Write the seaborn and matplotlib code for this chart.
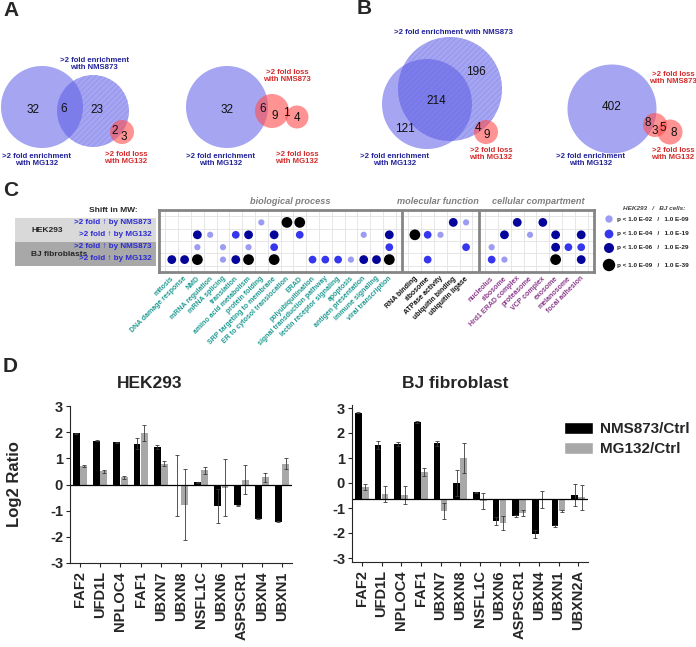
import numpy as np
import pandas as pd
import matplotlib
matplotlib.use('Agg')
import matplotlib.pyplot as plt
import seaborn as sns
from matplotlib.patches import Circle, Rectangle, Patch

W, H = 696, 647

# ---------------- data ----------------
# A / B : venn counts
a_left_counts = [32, 6, 23, 2, 3]
a_right_counts = [32, 6, 9, 1, 4]
b_left_counts = [196, 214, 121, 4, 9]
b_right_counts = [402, 8, 3, 5, 8]

# C : GO terms and p-value class (0 = none, 1..4 = legend classes)
bio_terms = ['mitosis', 'DNA damage response', 'NMD', 'mRNA regulation', 'mRNA splicing',
             'translation', 'amino acid metabolism', 'protein folding',
             'SRP targeting to membrane', 'ER to cytosol translocation', 'ERAD',
             'polyubiquitination', 'signal transduction pathway', 'lectin receptor signaling',
             'apoptosis', 'antigen presentation', 'immune signaling', 'viral transcription']
mf_terms = ['RNA binding', 'ribosome', 'ATPase activity', 'ubiquitin binding', 'ubiquitin ligase']
cc_terms = ['nucleolus', 'ribosome', 'Hrd1 ERAD complex', 'proteasome', 'VCP complex',
            'exosome', 'melanosome', 'focal adhesion']
row_labels = ['>2 fold \u2191 by NMS873', '>2 fold \u2191 by MG132',
              '>2 fold \u2191 by NMS873', '>2 fold \u2191 by MG132']
hek_nms_go = [0, 0, 0, 0, 0, 0, 0, 1, 0, 4, 4, 0, 0, 0, 0, 0, 0, 0] + [0, 0, 0, 3, 1] + [0, 0, 3, 0, 3, 0, 0, 0]
hek_mg_go = [0, 0, 3, 1, 0, 2, 3, 0, 3, 0, 2, 0, 0, 0, 0, 1, 0, 3] + [4, 2, 1, 0, 0] + [0, 3, 0, 1, 0, 3, 0, 3]
bj_nms_go = [0, 0, 1, 0, 1, 0, 1, 0, 2, 0, 0, 0, 0, 0, 0, 0, 0, 2] + [0, 0, 0, 0, 2] + [1, 0, 0, 0, 0, 3, 2, 2]
bj_mg_go = [3, 3, 4, 0, 1, 3, 4, 0, 4, 0, 0, 2, 2, 2, 1, 3, 3, 4] + [0, 2, 0, 0, 0] + [2, 1, 0, 0, 0, 4, 0, 3]
p_classes = ['p < 1.0 E-02   /   1.0 E-09', 'p < 1.0 E-04   /   1.0 E-19',
             'p < 1.0 E-06   /   1.0 E-29', 'p < 1.0 E-09   /   1.0 E-39']

# D : log2 ratios
hek_genes = ['FAF2', 'UFD1L', 'NPLOC4', 'FAF1', 'UBXN7', 'UBXN8', 'NSFL1C', 'UBXN6',
             'ASPSCR1', 'UBXN4', 'UBXN1']
hek_nms = [1.95, 1.68, 1.62, 1.56, 1.43, -0.05, 0.09, -0.82, -0.80, -1.30, -1.42]
hek_nms_err = [0.02, 0.02, 0.02, 0.22, 0.08, 1.17, 0.02, 0.66, 0.02, 0.03, 0.02]
hek_mg = [0.69, 0.50, 0.27, 1.97, 0.80, -0.78, 0.54, -0.12, 0.18, 0.27, 0.80]
hek_mg_err = [0.04, 0.05, 0.06, 0.29, 0.08, 1.36, 0.13, 1.10, 0.55, 0.18, 0.20]

bj_genes = ['FAF2', 'UFD1L', 'NPLOC4', 'FAF1', 'UBXN7', 'UBXN8', 'NSFL1C', 'UBXN6',
            'ASPSCR1', 'UBXN4', 'UBXN1', 'UBXN2A']
bj_nms = [3.45, 2.16, 2.20, 3.08, 2.23, 0.65, 0.27, -0.87, -0.67, -1.40, -1.08, 0.17]
bj_nms_err = [0.02, 0.17, 0.09, 0.03, 0.11, 0.51, 0.03, 0.15, 0.03, 0.16, 0.03, 0.44]
bj_mg = [0.49, 0.20, 0.16, 1.09, -0.47, 1.65, -0.07, -0.95, -0.55, -0.01, -0.47, 0.07]
bj_mg_err = [0.11, 0.33, 0.37, 0.17, 0.31, 0.61, 0.33, 0.27, 0.13, 0.33, 0.04, 0.51]

# ---------------- style ----------------
sns.set_style('ticks')
plt.rcParams['font.family'] = ['Liberation Sans', 'DejaVu Sans']
plt.rcParams['font.weight'] = 'bold'
plt.rcParams['axes.unicode_minus'] = False
plt.rcParams['hatch.linewidth'] = 0.6

navy = '#22229a'
red = '#d42a2a'
blue_fill = '#5c5ce6'
red_fill = '#ff5050'
dot_colors = {'p1': '#9c9cf2', 'p2': '#3636ec', 'p3': '#04049a', 'p4': '#000000'}
dot_sizes = {'p1': 20, 'p2': 31, 'p3': 40, 'p4': 60}

fig = plt.figure(figsize=(W / 100, H / 100), dpi=100)


def px_axes(x0, y0, x1, y1):
    return fig.add_axes([x0 / W, 1 - y1 / H, (x1 - x0) / W, (y1 - y0) / H])


# overlay in pixel coordinates for venns and free text
ov = fig.add_axes([0, 0, 1, 1])
ov.set_xlim(0, W)
ov.set_ylim(H, 0)
ov.axis('off')
ov.set_zorder(10)

for lab, x, y in [('A', 3, 10), ('B', 357, 9), ('C', 3, 190), ('D', 3, 366)]:
    ov.text(x, y, lab, fontsize=15, fontweight='bold', ha='left', va='center')


# ---------------- A / B venns ----------------
def draw_venn(circles, counts, numpos):
    for cx, cy, r, kind in circles:
        if kind == 'red':
            ov.add_patch(Circle((cx, cy), r, facecolor=red_fill, alpha=0.62, lw=0))
        elif kind == 'hatch':
            ov.add_patch(Circle((cx, cy), r, facecolor=blue_fill, alpha=0.55, lw=0))
            ov.add_patch(Circle((cx, cy), r, facecolor='none', edgecolor='#7c7cec',
                                hatch='//////', lw=0, alpha=0.45))
        else:
            ov.add_patch(Circle((cx, cy), r, facecolor=blue_fill, alpha=0.55, lw=0))
    for n, (x, y) in zip(counts, numpos):
        ov.text(x, y, str(n), ha='center', va='center', fontsize=8.5, fontweight='normal',
                color='#111111')


draw_venn([(42, 107, 41, 'plain'), (93, 111, 36, 'hatch'), (122, 132, 12, 'red')],
          a_left_counts, [(33, 110), (64, 109), (97, 110), (115, 131), (124, 137)])
draw_venn([(227, 107, 41, 'plain'), (272, 111, 17, 'red'), (297, 117, 11.5, 'red')],
          a_right_counts, [(227, 110), (263, 109), (275, 116), (286, 113), (297, 118)])
draw_venn([(450, 89, 52, 'hatch'), (427, 104, 45, 'plain'), (486, 132, 12, 'red')],
          b_left_counts, [(476, 72), (436, 101), (405, 129), (478, 128), (487, 135)])
draw_venn([(612, 109, 44.5, 'plain'), (655, 125, 12, 'red'), (670, 132, 12.5, 'red')],
          b_right_counts, [(612, 107), (648, 123), (655, 131), (663, 128), (674, 133)])

venn_labels = [
    (94, 64, '>2 fold enrichment\nwith NMS873', navy),
    (37, 160, '>2 fold enrichment\nwith MG132', navy),
    (126, 158, '>2 fold loss\nwith MG132', red),
    (287, 76, '>2 fold loss\nwith NMS873', red),
    (221, 160, '>2 fold enrichment\nwith MG132', navy),
    (297, 158, '>2 fold loss\nwith MG132', red),
    (453, 33, '>2 fold enrichment with NMS873', navy),
    (395, 160, '>2 fold enrichment\nwith MG132', navy),
    (491, 154, '>2 fold loss\nwith MG132', red),
    (673, 78, '>2 fold loss\nwith NMS873', red),
    (591, 160, '>2 fold enrichment\nwith MG132', navy),
    (673, 154, '>2 fold loss\nwith MG132', red),
]
for x, y, txt, col in venn_labels:
    ov.text(x, y, txt, ha='center', va='center', fontsize=5.6, color=col,
            linespacing=1.15)

# ---------------- C : GO dot matrix ----------------
ax_c = px_axes(159, 210, 594, 272)
xpos = list(range(1, 19)) + list(range(20, 25)) + list(range(26, 34))
recs = []
for r, levels in enumerate([hek_nms_go, hek_mg_go, bj_nms_go, bj_mg_go]):
    for x, lv in zip(xpos, levels):
        if lv > 0:
            recs.append({'x': x, 'row': r + 1, 'p': 'p%d' % lv})
dots = pd.DataFrame(recs)

for g in np.arange(0.5, 34, 1):
    ax_c.axvline(g, color='#e2e2e2', lw=0.6, zorder=0)
for g in np.arange(0.5, 5, 1):
    ax_c.axhline(g, color='#e2e2e2', lw=0.6, zorder=0)
sns.scatterplot(data=dots, x='x', y='row', hue='p', size='p', palette=dot_colors,
                sizes=dot_sizes, edgecolor='none', legend=False, ax=ax_c, zorder=3)
ax_c.axvline(19, color='#858585', lw=2)
ax_c.axvline(25, color='#858585', lw=2)
ax_c.set_xlim(0, 34)
ax_c.set_ylim(5, 0)
ax_c.set_xticks([])
ax_c.set_yticks([])
ax_c.set_xlabel('')
ax_c.set_ylabel('')
for s in ax_c.spines.values():
    s.set_color('#858585')
    s.set_linewidth(2)

terms = bio_terms + mf_terms + cc_terms
term_cols = ['#1f9a92'] * len(bio_terms) + ['#111111'] * len(mf_terms) + ['#8a3c8a'] * len(cc_terms)
for x, t, col in zip(xpos, terms, term_cols):
    ax_c.text(x + 0.3, 5.25, t, rotation=45, ha='right', va='top', fontsize=5,
              color=col, clip_on=False)

for x, txt in [(290, 'biological process'), (438, 'molecular function'), (538, 'cellular compartment')]:
    ov.text(x, 201, txt, ha='center', va='center', fontsize=6.6, style='italic', color='#7f7f7f')

ov.add_patch(Rectangle((15, 218), 141, 24, color='#d9d9d9', lw=0))
ov.add_patch(Rectangle((15, 242), 141, 24, color='#a8a8a8', lw=0))
ov.text(113, 210, 'Shift in MW:', ha='center', va='center', fontsize=6)
ov.text(47, 230, 'HEK293', ha='center', va='center', fontsize=6)
ov.text(59, 255, 'BJ fibroblasts', ha='center', va='center', fontsize=6)
for y, txt in zip([222, 235, 247, 259], row_labels):
    ov.text(152, y, txt, ha='right', va='center', fontsize=5.8, color='#2a2ad2')

ov.text(654, 208, 'HEK293   /   BJ cells:', ha='center', va='center', fontsize=4.6,
        style='italic', color='#444444')
for (y, lab), sz in zip(zip([219, 234, 248, 265], p_classes), [28, 40, 52, 80]):
    key = 'p%d' % (p_classes.index(lab) + 1)
    ov.scatter([609], [y], s=sz, color=dot_colors[key], edgecolor='none')
    ov.text(617, y, lab, ha='left', va='center', fontsize=4.6, color='#222222')


# ---------------- D : bar charts ----------------
def bar_panel(ax, genes, nms, nms_err, mg, mg_err):
    n = len(genes)
    df = pd.DataFrame({'gene': genes * 2, 'ratio': nms + mg,
                       'treat': ['NMS873/Ctrl'] * n + ['MG132/Ctrl'] * n})
    sns.barplot(data=df, x='gene', y='ratio', hue='treat', palette=['#000000', '#a8a8a8'],
                saturation=1, width=0.72, gap=0.06, errorbar=None, legend=False,
                linewidth=0, ax=ax)
    for cont, err in zip(ax.containers, [nms_err, mg_err]):
        xs = [b.get_x() + b.get_width() / 2 for b in cont]
        ys = [b.get_y() + b.get_height() for b in cont]
        ax.errorbar(xs, ys, yerr=err, fmt='none', ecolor='#3a3a3a', elinewidth=0.6,
                    capsize=1.4, capthick=0.6)
    ax.axhline(0, color='black', lw=0.9)
    sns.despine(ax=ax)
    ax.spines['left'].set_linewidth(0.8)
    ax.spines['bottom'].set_linewidth(0.8)
    ax.set_xlabel('')
    ax.set_ylabel('')
    ax.tick_params(axis='x', labelrotation=90, labelsize=10.5, length=3, width=0.8, pad=3)
    ax.tick_params(axis='y', labelsize=10.5, length=3, width=0.8, pad=2)
    ax.set_xlim(-0.5, n - 0.5)


ax_h = px_axes(70, 406, 292, 563)
bar_panel(ax_h, hek_genes, hek_nms, hek_nms_err, hek_mg, hek_mg_err)
ax_h.set_ylim(-3, 3)
ax_h.set_yticks(range(-3, 4))
ax_h.set_ylabel('Log2 Ratio', fontsize=12, fontweight='bold')
ax_h.yaxis.set_label_coords(-0.215, 0.5)

ax_b = px_axes(352, 405, 588, 562)
bar_panel(ax_b, bj_genes, bj_nms, bj_nms_err, bj_mg, bj_mg_err)
# the printed tick labels of this panel sit ~0.64 units above the drawn zero line
ax_b.set_ylim(-2.52, 3.76)
ax_b.set_yticks(np.arange(-3, 4) + 0.64, labels=[str(v) for v in range(-3, 4)])

ov.text(150, 383, 'HEK293', ha='center', va='center', fontsize=12.5)
ov.text(455, 383, 'BJ fibroblast', ha='center', va='center', fontsize=12.5)

handles = [Patch(facecolor='#000000', label='NMS873/Ctrl'),
           Patch(facecolor='#a8a8a8', label='MG132/Ctrl')]
fig.legend(handles=handles, loc='upper left', bbox_to_anchor=(550 / W, 1 - 408 / H),
           frameon=False, fontsize=11, handlelength=1.9, handleheight=0.9,
           handletextpad=0.5, labelspacing=0.35)

fig.savefig('out.png', dpi=100)
